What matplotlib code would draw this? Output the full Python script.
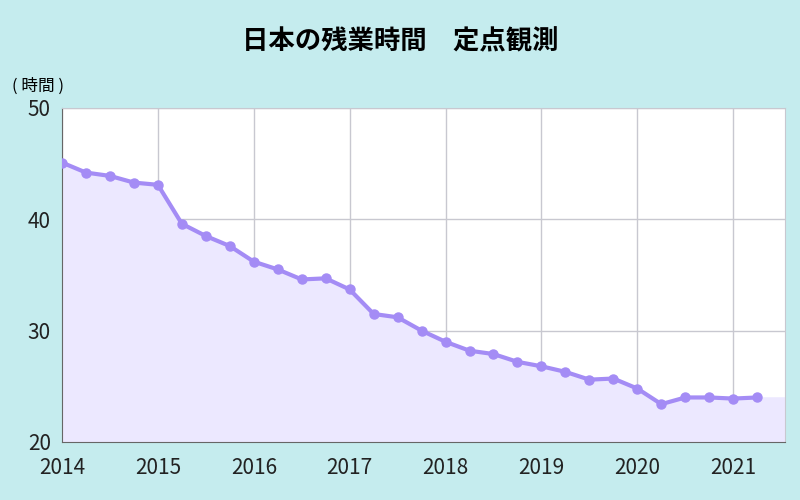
import matplotlib
matplotlib.use("Agg")
import matplotlib.pyplot as plt

plt.rcParams['font.family'] = ['Noto Sans CJK JP', 'DejaVu Sans']

years = [2014 + 0.25 * i for i in range(30)]
hours = [45.1, 44.2, 43.9, 43.3, 43.1, 39.6, 38.5, 37.6, 36.2, 35.5,
         34.6, 34.7, 33.7, 31.5, 31.2, 30.0, 29.0, 28.2, 27.9, 27.2,
         26.8, 26.3, 25.6, 25.7, 24.8, 23.4, 24.0, 24.0, 23.9, 24.0]
xticks = [2014, 2015, 2016, 2017, 2018, 2019, 2020, 2021]
yticks = [20, 30, 40, 50]
title = "日本の残業時間　定点観測"
unit = "( 時間 )"

bg = "#c5ecee"
fig = plt.figure(figsize=(8, 5), dpi=100, facecolor=bg)
ax = fig.add_axes([62/800, 1-442/500, (785-62)/800, (442-108)/500])
ax.set_facecolor("white")
xmax = 2021.54
ax.fill_between(years + [xmax], hours + [hours[-1]], 20, color="#ece8ff", zorder=1)
ax.plot(years, hours, color="#a48cf5", lw=3, marker="o", ms=6.5, zorder=3)
ax.set_xlim(2014, xmax)
ax.set_ylim(20, 50)
ax.set_xticks(xticks)
ax.set_yticks(yticks)
ax.grid(True, color="#c8c8d0", lw=1, zorder=0)
ax.set_axisbelow(True)
for s in ax.spines.values():
    s.set_color("#c8c8d0")
ax.spines['left'].set_color("#666666")
ax.spines['bottom'].set_color("#666666")
ax.tick_params(length=0, labelsize=15, colors="#222222")
ax.tick_params(axis='x', pad=11)
ax.tick_params(axis='y', pad=8)
fig.text(0.5, 1-42/500, title, ha="center", va="center", fontsize=19, fontweight="bold")
fig.text(12/800, 1-86/500, unit, ha="left", va="center", fontsize=12)
fig.savefig("out.png", facecolor=bg)
